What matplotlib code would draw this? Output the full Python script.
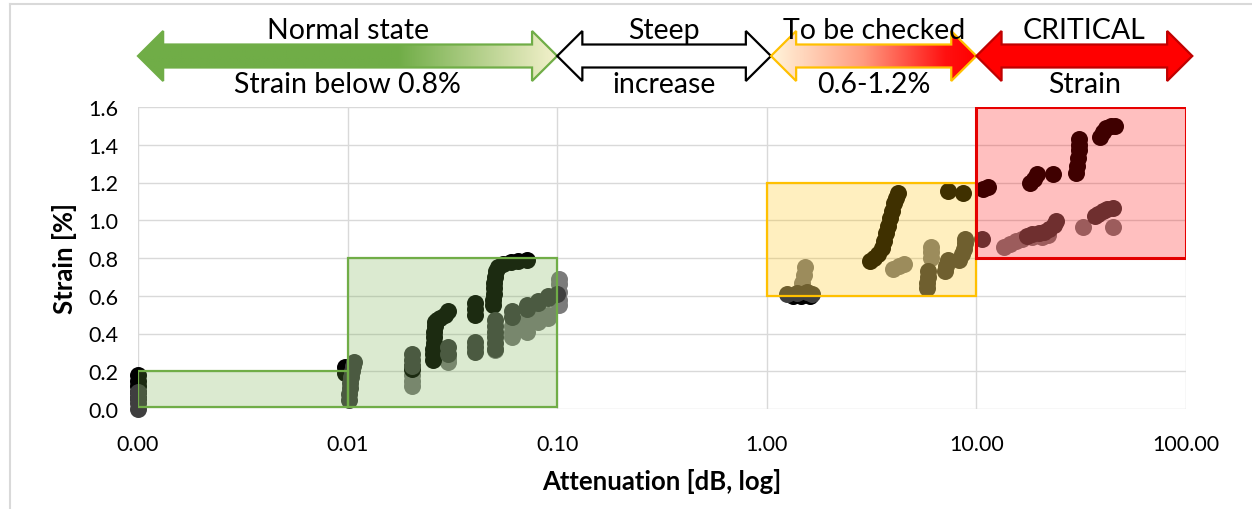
import numpy as np
import matplotlib
matplotlib.use("Agg")
import matplotlib.pyplot as plt
from matplotlib.patches import Rectangle, Polygon
from matplotlib.colors import LinearSegmentedColormap
from matplotlib.lines import Line2D
from matplotlib.ticker import FixedLocator, NullLocator, FuncFormatter

plt.rcParams['font.family'] = ['Lato', 'DejaVu Sans']

# measured points, three series (black / dark grey / light grey)
black_x = [0.001, 0.001, 0.001, 0.001, 0.001, 0.0097, 0.0097,
           0.0202, 0.0202,
           0.0255, 0.0255, 0.0256, 0.0257, 0.0258, 0.0259, 0.026, 0.0262, 0.0268, 0.0275, 0.029, 0.0302,
           0.0405, 0.0405, 0.0405,
           0.0495, 0.0495, 0.0497, 0.0499, 0.050, 0.0505, 0.051, 0.052, 0.055, 0.060, 0.065, 0.0715,
           1.33, 1.45, 1.6,
           3.10, 3.25, 3.4, 3.53, 3.62, 3.7, 3.8, 3.88, 3.95, 4.05, 4.15, 4.24,
           7.3, 8.6,
           10.7, 11.4, 18.0, 18.8, 19.5, 23.1,
           29.9, 30.3, 30.6, 30.8, 31.0, 31.0,
           39.0, 40.0, 41.5, 44.0, 46.0]
black_y = [0.06, 0.09, 0.12, 0.15, 0.18, 0.22, 0.19,
           0.21, 0.23,
           0.26, 0.29, 0.32, 0.35, 0.38, 0.41, 0.44, 0.46, 0.47, 0.48, 0.50, 0.52,
           0.50, 0.53, 0.56,
           0.55, 0.58, 0.61, 0.64, 0.67, 0.70, 0.73, 0.75, 0.77, 0.78, 0.785, 0.79,
           0.60, 0.60, 0.60,
           0.785, 0.80, 0.82, 0.855, 0.89, 0.93, 0.97, 1.01, 1.05, 1.09, 1.12, 1.146,
           1.155, 1.143,
           1.164, 1.178, 1.20, 1.22, 1.243, 1.243,
           1.25, 1.29, 1.33, 1.37, 1.40, 1.43,
           1.44, 1.47, 1.49, 1.50, 1.50]

dark_x = [0.001, 0.001, 0.001, 0.001,
          0.0102, 0.0102, 0.0103, 0.0103, 0.0104, 0.0105, 0.0106, 0.0107,
          0.0202, 0.0202, 0.0202,
          0.0302, 0.0302,
          0.0405, 0.0405, 0.0405,
          0.0505, 0.0505, 0.0505, 0.0505, 0.0505, 0.0505,
          0.0607, 0.0607, 0.0715, 0.0715, 0.0812, 0.0812, 0.0903, 0.0903, 0.10,
          1.25, 1.4, 1.55, 1.65,
          5.8, 5.8, 5.85, 5.9,
          7.1, 7.2, 7.3,
          8.3, 8.5, 8.7, 8.8, 8.8,
          10.6, 17.4, 18.5, 19.9, 21.0, 22.3, 23.5, 24.0,
          36.8, 38.0, 40.0, 42.0, 44.9]
dark_y = [0.0, 0.03, 0.06, 0.09,
          0.05, 0.08, 0.11, 0.14, 0.17, 0.20, 0.23, 0.25,
          0.23, 0.26, 0.29,
          0.29, 0.33,
          0.30, 0.33, 0.355,
          0.32, 0.35, 0.38, 0.41, 0.44, 0.47,
          0.49, 0.52, 0.53, 0.55, 0.56, 0.57, 0.59, 0.60, 0.61,
          0.61, 0.615, 0.62, 0.61,
          0.64, 0.67, 0.70, 0.73,
          0.73, 0.76, 0.79,
          0.79, 0.82, 0.85, 0.88, 0.90,
          0.90, 0.917, 0.925, 0.935, 0.94, 0.952, 0.975, 0.996,
          1.023, 1.035, 1.05, 1.06, 1.067]

light_x = [0.0202, 0.0202, 0.0202, 0.0202,
           0.0302, 0.0302, 0.0505,
           0.0607, 0.0607, 0.0607, 0.0715, 0.0715, 0.0715, 0.0812, 0.0812, 0.0903, 0.0903,
           0.102, 0.102, 0.102, 0.102, 0.102,
           1.47, 1.5, 1.52,
           4.0, 4.25, 4.5,
           6.1, 6.1, 6.1,
           13.5, 14.5, 15.5, 16.5, 18.5, 20.5, 22.0, 32.3, 44.9]
light_y = [0.12, 0.15, 0.18, 0.21,
           0.25, 0.27, 0.31,
           0.38, 0.41, 0.44, 0.41, 0.44, 0.47, 0.46, 0.49, 0.48, 0.50,
           0.55, 0.58, 0.62, 0.66, 0.69,
           0.67, 0.71, 0.75,
           0.74, 0.755, 0.77,
           0.80, 0.83, 0.86,
           0.86, 0.875, 0.89, 0.90, 0.91, 0.91, 0.92, 0.963, 0.965]

# threshold boxes: x0, x1, y0, y1, colour
boxes = [(0.001, 0.01, 0.01, 0.2, '#70ad47'),
         (0.01, 0.1, 0.01, 0.8, '#70ad47'),
         (1, 10, 0.6, 1.2, '#ffc000'),
         (10, 100, 0.8, 1.6, '#ff0000')]

x_ticks = [0.001, 0.01, 0.1, 1, 10, 100]
y_ticks = [0.0, 0.2, 0.4, 0.6, 0.8, 1.0, 1.2, 1.4, 1.6]

W, H = 1252, 510
fig = plt.figure(figsize=(W / 100, H / 100), dpi=100)
ax = fig.add_axes([138 / W, 1 - 410 / H, 1048 / W, 302 / H])

ms = 150
ax.scatter(light_x, light_y, s=ms, c='#7b7b7b', lw=0, zorder=2, clip_on=False)
ax.scatter(black_x, black_y, s=ms, c='#000000', lw=0, zorder=2, clip_on=False)
ax.scatter(dark_x, dark_y, s=ms, c='#3f3f3f', lw=0, zorder=2, clip_on=False)

for x0, x1, y0, y1, col in boxes:
    lw = 2.2 if col == '#ff0000' else 1.6
    edge = '#e00000' if col == '#ff0000' else col
    ax.add_patch(Rectangle((x0, y0), x1 - x0, y1 - y0, edgecolor=edge, lw=lw,
                           zorder=3, fill=False))
    ax.add_patch(Rectangle((x0, y0), x1 - x0, y1 - y0, facecolor=col, alpha=0.25,
                           lw=0, zorder=3))

ax.set_xscale('log')
ax.set_xlim(0.001, 100)
ax.set_ylim(0, 1.6)
ax.xaxis.set_major_locator(FixedLocator(x_ticks))
ax.xaxis.set_minor_locator(NullLocator())
ax.xaxis.set_major_formatter(FuncFormatter(lambda v, p: f"{v:.2f}"))
ax.set_yticks(y_ticks)
ax.yaxis.set_major_formatter(FuncFormatter(lambda v, p: f"{v:.1f}"))
ax.grid(True, color='#d9d9d9', lw=1)
ax.set_axisbelow(True)
for s in ax.spines.values():
    s.set_visible(False)
ax.tick_params(length=0, labelsize=15.5, colors='#000000')
ax.tick_params(axis='x', pad=18)
ax.tick_params(axis='y', pad=14)
ax.set_xlabel('Attenuation [dB, log]', fontsize=18.5, fontweight='bold', labelpad=10)
ax.set_ylabel('Strain [%]', fontsize=18.5, fontweight='bold', labelpad=8)

# top arrows describing the zones
tax = fig.add_axes([(138 - 0.1 * 209.6) / W, 1 - 105 / H, 5.2 * 209.6 / W, 105 / H])
cy, sh, hh, hl = 57, 11.5, 25, 0.12


def arrow_pts(x0, x1):
    return [(x0, cy), (x0 + hl, cy - hh), (x0 + hl, cy - sh), (x1 - hl, cy - sh),
            (x1 - hl, cy - hh), (x1, cy), (x1 - hl, cy + hh), (x1 - hl, cy + sh),
            (x0 + hl, cy + sh), (x0 + hl, cy + hh)]


zones = [(-3, -1, 'Normal state', 'Strain below 0.8%', '#70ad47',
          [(0, '#70ad47'), (0.62, '#70ad47'), (1, '#f4f1cc')]),
         (-1, 0.02, 'Steep', 'increase', '#000000', [(0, '#ffffff'), (1, '#ffffff')]),
         (0.02, 1.0, 'To be checked', '0.6-1.2%', '#ffc000',
          [(0, '#fff6dc'), (0.45, '#ff9a80'), (0.85, '#ff1010'), (1, '#ff0000')]),
         (1.0, 2.03, 'CRITICAL', 'Strain', '#c00000', [(0, '#ff0000'), (1, '#ff0000')])]

for x0, x1, top, bottom, edge, stops in zones:
    poly = Polygon(arrow_pts(x0, x1), closed=True, fc='none', ec=edge, lw=1.6, zorder=3)
    tax.add_patch(poly)
    cmap = LinearSegmentedColormap.from_list('z', stops)
    img = tax.imshow(np.linspace(0, 1, 256)[None, :], cmap=cmap, aspect='auto',
                     extent=[x0, x1, cy + hh, cy - hh], zorder=2)
    img.set_clip_path(poly)
    mid = (x0 + x1) / 2
    tax.text(mid, 31, top, ha='center', va='center', fontsize=20.5, zorder=5)
    tax.text(mid, 85, bottom, ha='center', va='center', fontsize=20.5, zorder=5)

tax.set_xlim(-3.1, 2.1)
tax.set_ylim(105, 0)
tax.axis('off')

# chart area border
fig.add_artist(Line2D([10 / W, 1], [1 - 5 / H, 1 - 5 / H], color='#d9d9d9', lw=1.5))
fig.add_artist(Line2D([10 / W, 10 / W], [0, 1 - 5 / H], color='#d9d9d9', lw=1.5))

fig.savefig('out.png', dpi=100)
